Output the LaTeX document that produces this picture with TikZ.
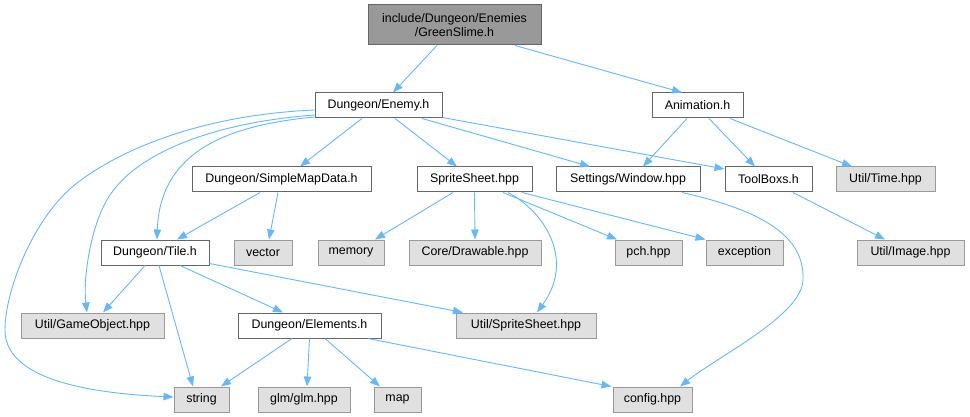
\documentclass[tikz,border=0pt]{standalone}
\usepackage{fontspec}
\setmainfont{Liberation Sans}
\usetikzlibrary{arrows.meta}
\definecolor{edgec}{HTML}{63B8FF}
\definecolor{boxborder}{HTML}{666666}
\definecolor{extborder}{HTML}{999999}
\definecolor{extfill}{HTML}{E0E0E0}
\definecolor{rootfill}{HTML}{999999}
\begin{document}
\begin{tikzpicture}[x=1pt,y=-1pt,
  box/.style={draw=boxborder, fill=white, line width=1pt, minimum height=25pt, inner sep=0pt,
    font=\fontsize{12.4}{14.5}\selectfont, text=black},
  ext/.style={box, draw=extborder, fill=extfill},
  rootbox/.style={box, fill=rootfill, minimum height=40pt, align=center},
  edge/.style={draw=edgec, line width=0.9pt, -{Triangle[length=10pt,width=7.5pt]}}
]
\useasboundingbox (0,0) rectangle (970,417);
% nodes
\node[rootbox, minimum width=173pt] (root) at (454.5,25) {include/Dungeon/Enemies\\/GreenSlime.h};
\node[box, minimum width=127pt] (enemy) at (378.5,105.5) {Dungeon/Enemy.h};
\node[box, minimum width=91pt] (anim) at (697.5,105.5) {Animation.h};
\node[box, minimum width=179pt] (smd) at (281.5,179.5) {Dungeon/SimpleMapData.h};
\node[box, minimum width=115pt] (ss) at (474.5,179.5) {SpriteSheet.hpp};
\node[box, minimum width=144pt] (win) at (628,179.5) {Settings/Window.hpp};
\node[box, minimum width=87pt] (tb) at (768.5,179.5) {ToolBoxs.h};
\node[ext, minimum width=99pt] (time) at (885.5,179.5) {Util/Time.hpp};
\node[box, minimum width=108pt] (tile) at (155,252.5) {Dungeon/Tile.h};
\node[ext, minimum width=58pt] (vector) at (263,252.5) {vector};
\node[ext, minimum width=66pt] (memory) at (351,252.5) {memory};
\node[ext, minimum width=132pt] (drawable) at (475,252.5) {Core/Drawable.hpp};
\node[ext, minimum width=67pt] (pch) at (648.5,252.5) {pch.hpp};
\node[ext, minimum width=77pt] (exception) at (744.5,252.5) {exception};
\node[ext, minimum width=107pt] (image) at (910.5,252.5) {Util/Image.hpp};
\node[ext, minimum width=143pt] (gameobj) at (92.5,325.5) {Util/GameObject.hpp};
\node[box, minimum width=143pt] (elements) at (309.5,325.5) {Dungeon/Elements.h};
\node[ext, minimum width=140pt] (utilss) at (526,325.5) {Util/SpriteSheet.hpp};
\node[ext, minimum width=55pt] (string) at (201.5,399.5) {string};
\node[ext, minimum width=92pt] (glm) at (304,399.5) {glm/glm.hpp};
\node[ext, minimum width=47pt] (map) at (397.5,399.5) {map};
\node[ext, minimum width=79pt] (config) at (652.5,399.5) {config.hpp};
% straight edges
\draw[edge] ([xshift=-17.5pt]root.south) -- ([xshift=14.5pt]enemy.north);
\draw[edge] ([xshift=60.5pt]root.south) -- ([xshift=-15.5pt]anim.north);
\draw[edge] ([xshift=-16.5pt]enemy.south) -- ([xshift=18.5pt]smd.north);
\draw[edge] ([xshift=16.5pt]enemy.south) -- ([xshift=-17.5pt]ss.north);
\draw[edge] ([xshift=43.5pt]enemy.south) -- ([xshift=-38pt]win.north);
\draw[edge] ([yshift=1pt]enemy.south east) -- ([yshift=10.5pt]tb.west);
\draw[edge] ([xshift=-10.5pt]anim.south) -- ([xshift=15pt]win.north);
\draw[edge] ([xshift=11.5pt]anim.south) -- ([xshift=-13.5pt]tb.north);
\draw[edge] ([xshift=32.5pt]anim.south) -- ([xshift=-33.5pt]time.north);
\draw[edge] ([xshift=-21.5pt]smd.south) -- ([xshift=22pt]tile.north);
\draw[edge] ([xshift=-3.5pt]smd.south) -- ([xshift=6pt]vector.north);
\draw[edge] ([xshift=-21.5pt]ss.south) -- ([xshift=24pt]memory.north);
\draw[edge] (ss.south) -- (drawable.north);
\draw[edge] ([xshift=28.5pt]ss.south) -- ([xshift=-31.5pt]pch.north);
\draw[edge] ([xshift=47.5pt]ss.south) -- (exception.north west);
\draw[edge] ([xshift=24.5pt]tb.south) -- ([xshift=-25.5pt]image.north);
\draw[edge] ([xshift=-10pt]tile.south) -- ([xshift=10.5pt]gameobj.north);
\draw[edge] ([xshift=4pt]tile.south) -- ([xshift=-8.5pt]string.north);
\draw[edge] ([xshift=25pt]tile.south) -- ([xshift=-26.5pt]elements.north);
\draw[edge] ([yshift=2pt]tile.south east) -- ([xshift=-63pt]utilss.north);
\draw[edge] ([xshift=-17.5pt]elements.south) -- ([xshift=19.5pt]string.north);
\draw[edge] (elements.south) -- ([xshift=3pt]glm.north);
\draw[edge] ([xshift=15.5pt]elements.south) -- ([xshift=-17.5pt]map.north);
\draw[edge] ([xshift=58.5pt]elements.south) -- ([xshift=-1pt]config.north west);
% curved edges
\draw[edge] ([xshift=33.5pt]ss.south) .. controls (545,212) and (575,260) .. ([xshift=11pt]utilss.north);
\draw[edge] ([xshift=54pt]win.south) .. controls (760,210) and (805,235) .. (803,280)
  .. controls (802,315) and (720,355) .. ([xshift=27.5pt]config.north);
\draw[edge] ([yshift=-11.5pt]enemy.west) .. controls (230,125) and (160,150) .. ([xshift=2pt]tile.north);
\draw[edge] ([yshift=-9.5pt]enemy.west) .. controls (220,122) and (140,150) .. (110,195)
  .. controls (90,225) and (83,280) .. ([xshift=-5.5pt]gameobj.north);
\draw[edge] ([yshift=-4.5pt]enemy.west) .. controls (200,115) and (120,150) .. (77,183)
  .. controls (34,216) and (5,290) .. (5,330)
  .. controls (5,370) and (60,392) .. ([yshift=2.5pt]string.west);
\end{tikzpicture}
\end{document}
